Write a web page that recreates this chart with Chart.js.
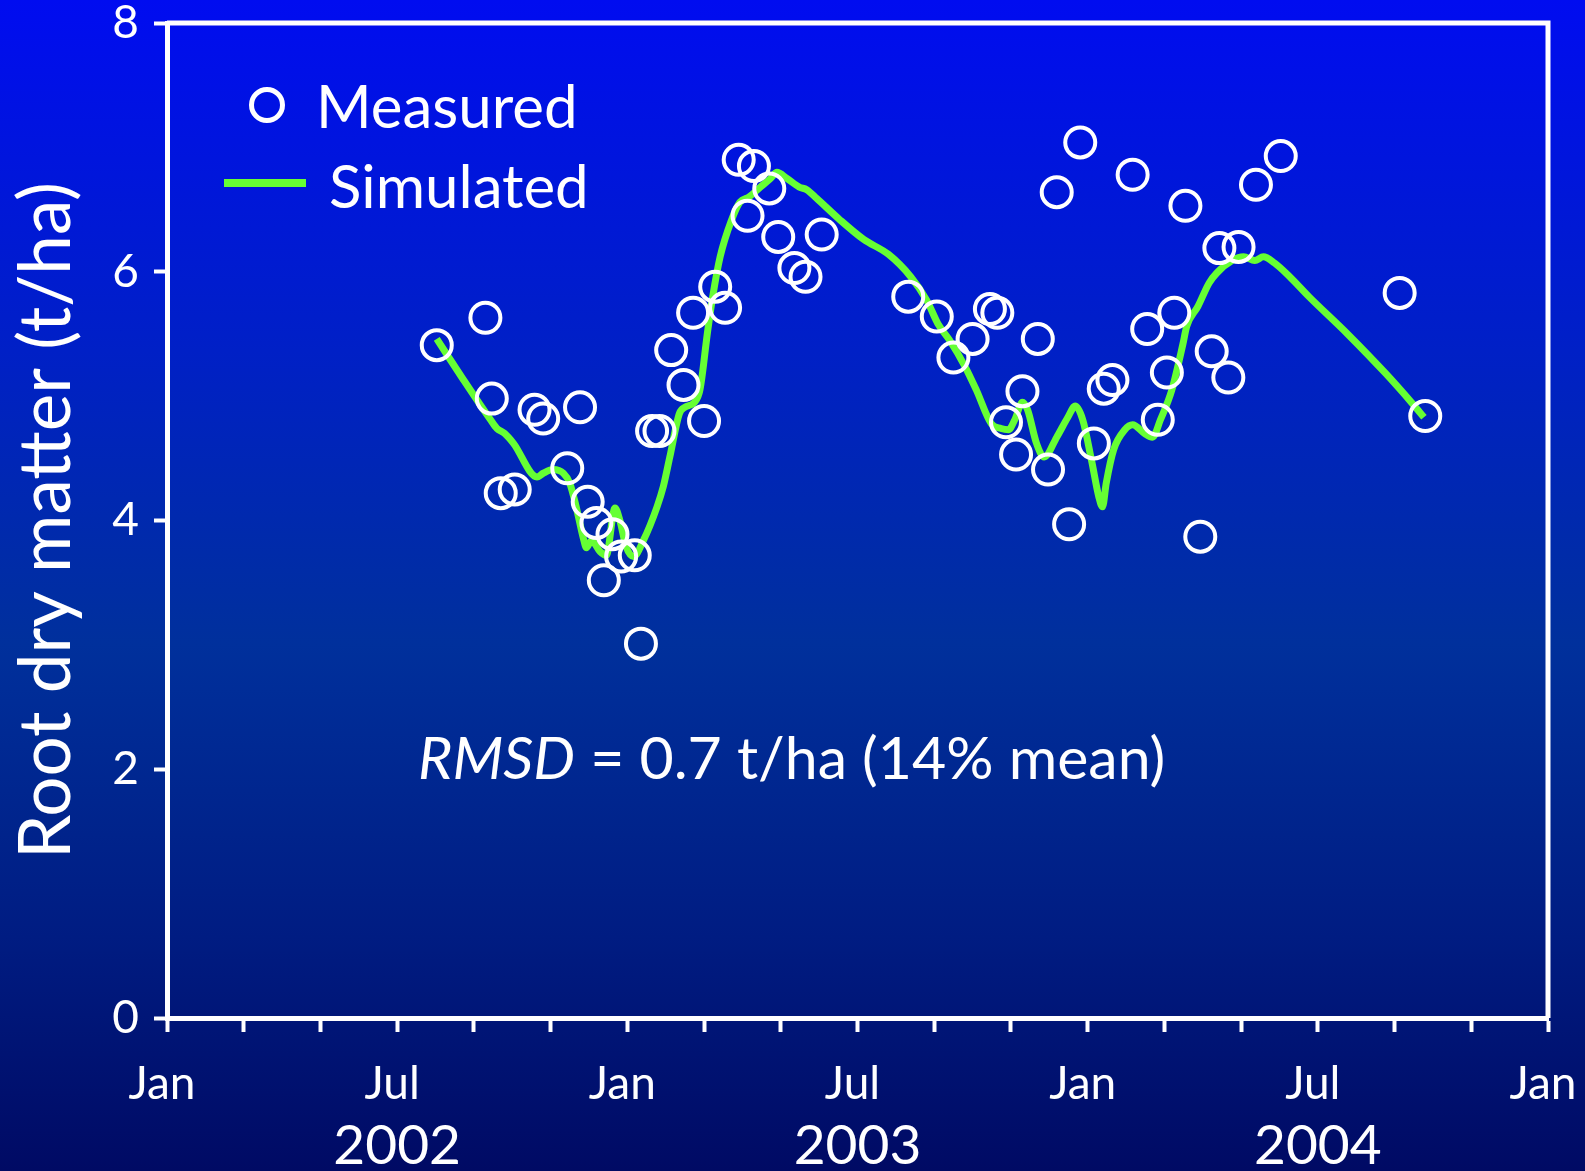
<!DOCTYPE html>
<html lang="en">
<head>
    <meta charset="UTF-8">
    <title>Root dry matter - measured vs simulated</title>
    <style>
        html, body { margin: 0; padding: 0; overflow: hidden; background: #001a80; }
        canvas { display: block; }
    </style>
</head>
<body>
    <canvas id="rootChart" width="1585" height="1171"></canvas>

    <script src="https://cdn.jsdelivr.net/npm/chart.js"></script>
    <script>
        // Measured root dry matter (t/ha)
        const measuredDates = [
            '2002-08-02', '2002-09-10', '2002-09-15', '2002-09-22', '2002-10-03', '2002-10-19',
            '2002-10-26', '2002-11-24', '2002-11-14', '2002-11-30', '2002-12-07', '2002-12-13',
            '2002-12-20', '2002-12-27', '2003-01-07', '2003-01-12', '2003-01-21', '2003-01-27',
            '2003-02-05', '2003-02-14', '2003-02-21', '2003-03-01', '2003-03-10', '2003-03-18',
            '2003-03-29', '2003-04-05', '2003-04-10', '2003-04-22', '2003-04-29', '2003-05-12',
            '2003-05-21', '2003-06-03', '2003-08-11', '2003-09-03', '2003-09-16', '2003-10-01',
            '2003-10-15', '2003-10-21', '2003-10-28', '2003-11-05', '2003-11-10', '2003-11-22',
            '2003-11-30', '2003-12-07', '2003-12-17', '2003-12-26', '2004-01-06', '2004-01-14',
            '2004-01-21', '2004-02-06', '2004-02-17', '2004-02-25', '2004-03-03', '2004-03-09',
            '2004-03-18', '2004-03-30', '2004-04-08', '2004-04-14', '2004-04-21', '2004-04-29',
            '2004-05-13', '2004-06-02', '2004-09-05', '2004-09-25'
        ];
        const measuredValues = [
            5.41, 5.63, 4.98, 4.22, 4.25, 4.89,
            4.82, 4.91, 4.42, 4.15, 3.98, 3.52,
            3.89, 3.71, 3.72, 3.01, 4.72, 4.72,
            5.37, 5.09, 5.67, 4.80, 5.88, 5.71,
            6.90, 6.45, 6.85, 6.67, 6.28, 6.03,
            5.96, 6.30, 5.80, 5.64, 5.31, 5.46,
            5.70, 5.67, 4.79, 4.53, 5.04, 5.46,
            4.41, 6.64, 3.97, 7.04, 4.62, 5.06,
            5.13, 6.78, 5.54, 4.81, 5.19, 5.67,
            6.53, 3.87, 5.36, 6.19, 5.15, 6.20,
            6.70, 6.93, 5.83, 4.84
        ];

        // Simulated root dry matter (t/ha)
        const simulatedDates = [
            '2002-08-02', '2002-08-23', '2002-09-14', '2002-09-19', '2002-09-25', '2002-10-02',
            '2002-10-21', '2002-10-26', '2002-11-03', '2002-11-11', '2002-11-16', '2002-11-21',
            '2002-11-27', '2002-11-29', '2002-12-03', '2002-12-10', '2002-12-15', '2002-12-22',
            '2002-12-26', '2002-12-31', '2003-01-06', '2003-01-14', '2003-01-25', '2003-01-30',
            '2003-02-04', '2003-02-11', '2003-02-15', '2003-02-22', '2003-02-26', '2003-03-04',
            '2003-03-08', '2003-03-14', '2003-03-23', '2003-03-30', '2003-04-06', '2003-04-15',
            '2003-04-23', '2003-04-28', '2003-05-06', '2003-05-16', '2003-05-22', '2003-05-30',
            '2003-06-17', '2003-07-06', '2003-07-26', '2003-08-13', '2003-08-26', '2003-09-04',
            '2003-09-13', '2003-09-25', '2003-10-04', '2003-10-16', '2003-10-24', '2003-10-30',
            '2003-11-04', '2003-11-10', '2003-11-14', '2003-11-21', '2003-11-27', '2003-12-07',
            '2003-12-16', '2003-12-22', '2003-12-28', '2004-01-04', '2004-01-10', '2004-01-13',
            '2004-01-16', '2004-01-22', '2004-01-31', '2004-02-06', '2004-02-15', '2004-02-21',
            '2004-02-27', '2004-03-07', '2004-03-16', '2004-03-19', '2004-03-28', '2004-04-06',
            '2004-04-12', '2004-04-24', '2004-05-03', '2004-05-12', '2004-05-19', '2004-05-28',
            '2004-06-09', '2004-06-24', '2004-07-25', '2004-08-25', '2004-09-15', '2004-09-24'
        ];
        const simulatedValues = [
            5.46, 5.14, 4.81, 4.74, 4.70, 4.62,
            4.35, 4.38, 4.41, 4.38, 4.30, 4.11,
            3.84, 3.78, 3.84, 3.75, 3.72, 4.10,
            4.00, 3.79, 3.71, 3.84, 4.11, 4.27,
            4.51, 4.86, 4.91, 4.95, 5.05, 5.53,
            5.80, 6.12, 6.41, 6.56, 6.60, 6.68,
            6.75, 6.80, 6.75, 6.68, 6.66, 6.59,
            6.42, 6.26, 6.14, 5.96, 5.77, 5.58,
            5.45, 5.24, 5.05, 4.78, 4.74, 4.73,
            4.81, 4.95, 4.89, 4.62, 4.51, 4.67,
            4.83, 4.92, 4.81, 4.49, 4.19, 4.11,
            4.30, 4.57, 4.73, 4.77, 4.70, 4.67,
            4.81, 5.05, 5.42, 5.56, 5.72, 5.91,
            5.99, 6.09, 6.12, 6.09, 6.12, 6.07,
            5.96, 5.80, 5.50, 5.18, 4.94, 4.83
        ];

        const startYear = 2002;
        const yearLabels = [2002, 2003, 2004];
        const fontFamily = 'Lato';

        // months since Jan of startYear (fractional)
        function toMonths(iso) {
            const [y, m, d] = iso.split('-').map(Number);
            const daysInMonth = new Date(Date.UTC(y, m, 0)).getUTCDate();
            return (y - startYear) * 12 + (m - 1) + (d - 1) / daysInMonth;
        }

        const measuredPoints = measuredDates.map((d, i) => ({ x: toMonths(d), y: measuredValues[i] }));
        const simulatedPoints = simulatedDates.map((d, i) => ({ x: toMonths(d), y: simulatedValues[i] }));

        // blue slide background
        const backgroundPlugin = {
            id: 'slideBackground',
            beforeDraw(chart) {
                const { ctx, width, height } = chart;
                const g = ctx.createLinearGradient(0, 0, 0, height);
                g.addColorStop(0, '#000cf0');
                g.addColorStop(0.3, '#0020c6');
                g.addColorStop(0.55, '#00309c');
                g.addColorStop(0.8, '#001c82');
                g.addColorStop(1, '#000a64');
                ctx.save();
                ctx.fillStyle = g;
                ctx.fillRect(0, 0, width, height);
                ctx.restore();
            }
        };

        // top and right sides of the plot frame
        const framePlugin = {
            id: 'plotFrame',
            afterDraw(chart) {
                const { ctx, chartArea: a } = chart;
                ctx.save();
                ctx.strokeStyle = '#ffffff';
                ctx.lineWidth = 5;
                ctx.beginPath();
                ctx.moveTo(a.left, a.top);
                ctx.lineTo(a.right, a.top);
                ctx.lineTo(a.right, a.bottom);
                ctx.stroke();
                ctx.restore();
            }
        };

        // year labels under the Jul ticks, legend and RMSD note
        const textPlugin = {
            id: 'slideText',
            afterDraw(chart) {
                const { ctx, chartArea: a } = chart;
                const xScale = chart.scales.x;
                ctx.save();
                ctx.fillStyle = '#ffffff';
                ctx.textBaseline = 'middle';

                ctx.font = `55px ${fontFamily}`;
                ctx.textAlign = 'center';
                yearLabels.forEach(yr => {
                    const px = xScale.getPixelForValue((yr - startYear) * 12 + 6);
                    ctx.fillText(String(yr), px, a.bottom + 128);
                });

                // legend
                const measured = chart.data.datasets[0];
                const simulated = chart.data.datasets[1];
                ctx.font = `60px ${fontFamily}`;
                ctx.textAlign = 'left';
                ctx.strokeStyle = measured.borderColor;
                ctx.lineWidth = 5;
                ctx.beginPath();
                ctx.arc(a.left + 100, a.top + 82, 15.5, 0, Math.PI * 2);
                ctx.stroke();
                ctx.fillText(measured.label, a.left + 149, a.top + 86);

                ctx.strokeStyle = simulated.borderColor;
                ctx.lineWidth = 8;
                ctx.beginPath();
                ctx.moveTo(a.left + 57, a.top + 160);
                ctx.lineTo(a.left + 139, a.top + 160);
                ctx.stroke();
                ctx.fillText(simulated.label, a.left + 162, a.top + 166);

                // RMSD note
                ctx.textBaseline = 'alphabetic';
                const x0 = a.left + 251;
                const yb = a.top + 756;
                ctx.font = `italic 59px ${fontFamily}`;
                ctx.fillText('RMSD', x0, yb);
                const w = ctx.measureText('RMSD').width;
                ctx.font = `59px ${fontFamily}`;
                ctx.fillText(' = 0.7 t/ha (14% mean)', x0 + w, yb);
                ctx.restore();
            }
        };

        function drawChart() {
            const ctx = document.getElementById('rootChart').getContext('2d');
            new Chart(ctx, {
                type: 'scatter',
                data: {
                    datasets: [
                        {
                            label: 'Measured',
                            data: measuredPoints,
                            pointStyle: 'circle',
                            pointRadius: 15,
                            borderWidth: 4,
                            borderColor: '#ffffff',
                            backgroundColor: 'rgba(0,0,0,0)'
                        },
                        {
                            label: 'Simulated',
                            type: 'line',
                            data: simulatedPoints,
                            borderColor: '#66ff33',
                            borderWidth: 7,
                            pointRadius: 0,
                            fill: false,
                            cubicInterpolationMode: 'monotone'
                        }
                    ]
                },
                options: {
                    responsive: false,
                    animation: false,
                    layout: { padding: { top: 23, right: 37, left: 0, bottom: 0 } },
                    plugins: {
                        legend: { display: false },
                        tooltip: { enabled: false }
                    },
                    scales: {
                        x: {
                            type: 'linear',
                            min: 0,
                            max: 36,
                            afterFit(scale) {
                                scale.height = 153;
                                scale.paddingLeft = 0;
                                scale.paddingRight = 0;
                            },
                            border: { display: true, color: '#ffffff', width: 5 },
                            grid: {
                                drawOnChartArea: false,
                                color: '#ffffff',
                                tickLength: 14,
                                tickWidth: 4
                            },
                            ticks: {
                                stepSize: 2,
                                autoSkip: false,
                                maxRotation: 0,
                                labelOffset: -5,
                                color: '#ffffff',
                                padding: 25,
                                font: { family: fontFamily, size: 46, lineHeight: 1.2 },
                                callback: v => (v % 12 === 0 ? 'Jan' : v % 12 === 6 ? 'Jul' : '')
                            }
                        },
                        y: {
                            min: 0,
                            max: 8,
                            afterFit(scale) {
                                scale.width = 167;
                                scale.paddingTop = 0;
                                scale.paddingBottom = 0;
                            },
                            border: { display: true, color: '#ffffff', width: 5 },
                            grid: {
                                drawOnChartArea: false,
                                color: '#ffffff',
                                tickLength: 13,
                                tickWidth: 4
                            },
                            ticks: {
                                stepSize: 2,
                                color: '#ffffff',
                                padding: 15,
                                font: { family: fontFamily, size: 46, lineHeight: 1 }
                            },
                            title: {
                                display: true,
                                text: 'Root dry matter (t/ha)',
                                color: '#ffffff',
                                font: { family: fontFamily, size: 71, lineHeight: 1.2 },
                                padding: { top: 5, bottom: 0 }
                            }
                        }
                    }
                },
                plugins: [backgroundPlugin, framePlugin, textPlugin]
            });
        }

        Promise.all([
            document.fonts.load(`46px ${fontFamily}`),
            document.fonts.load(`italic 59px ${fontFamily}`)
        ]).then(drawChart, drawChart);
    </script>
</body>
</html>
